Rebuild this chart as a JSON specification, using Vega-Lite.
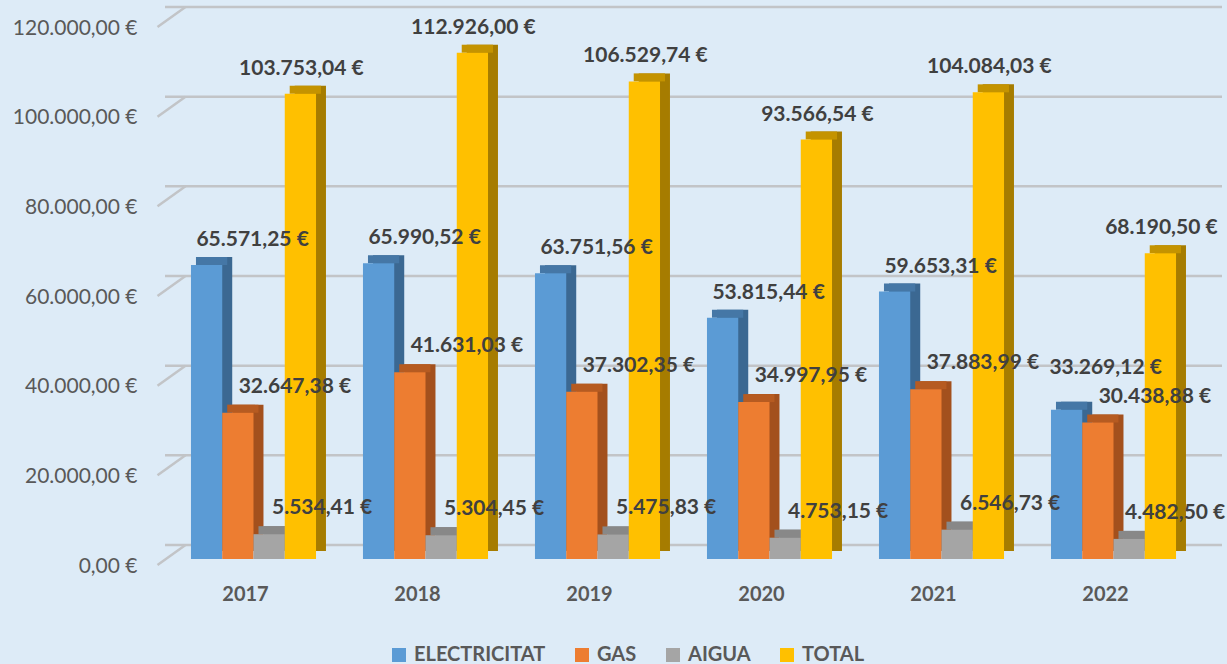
{
  "$schema": "https://vega.github.io/schema/vega-lite/v6.json",
  "width": 1037,
  "height": 538,
  "autosize": {"type": "none"},
  "padding": {"left": 165, "top": 21, "right": 25, "bottom": 105},
  "background": "#DDEBF7",
  "config": {
    "view": {"stroke": null, "fill": "#DDEBF7"},
    "font": "Lato",
    "locale": {"number": {"decimal": ",", "thousands": ".", "grouping": [3], "currency": ["", " €"]}}
  },
  "datasets": {
    "costos": [
      {"any": "2017", "serie": "ELECTRICITAT", "valor": 65571.25},
      {"any": "2017", "serie": "GAS", "valor": 32647.38},
      {"any": "2017", "serie": "AIGUA", "valor": 5534.41},
      {"any": "2017", "serie": "TOTAL", "valor": 103753.04},
      {"any": "2018", "serie": "ELECTRICITAT", "valor": 65990.52},
      {"any": "2018", "serie": "GAS", "valor": 41631.03},
      {"any": "2018", "serie": "AIGUA", "valor": 5304.45},
      {"any": "2018", "serie": "TOTAL", "valor": 112926.00},
      {"any": "2019", "serie": "ELECTRICITAT", "valor": 63751.56},
      {"any": "2019", "serie": "GAS", "valor": 37302.35},
      {"any": "2019", "serie": "AIGUA", "valor": 5475.83},
      {"any": "2019", "serie": "TOTAL", "valor": 106529.74},
      {"any": "2020", "serie": "ELECTRICITAT", "valor": 53815.44},
      {"any": "2020", "serie": "GAS", "valor": 34997.95},
      {"any": "2020", "serie": "AIGUA", "valor": 4753.15},
      {"any": "2020", "serie": "TOTAL", "valor": 93566.54},
      {"any": "2021", "serie": "ELECTRICITAT", "valor": 59653.31},
      {"any": "2021", "serie": "GAS", "valor": 37883.99},
      {"any": "2021", "serie": "AIGUA", "valor": 6546.73},
      {"any": "2021", "serie": "TOTAL", "valor": 104084.03},
      {"any": "2022", "serie": "ELECTRICITAT", "valor": 33269.12},
      {"any": "2022", "serie": "GAS", "valor": 30438.88},
      {"any": "2022", "serie": "AIGUA", "valor": 4482.50},
      {"any": "2022", "serie": "TOTAL", "valor": 68190.50}
    ],
    "graella": [
      {"v": 0}, {"v": 20000}, {"v": 40000}, {"v": 60000}, {"v": 80000}, {"v": 100000}, {"v": 120000}
    ]
  },
  "resolve": {"scale": {"color": "independent", "xOffset": "independent"}},
  "layer": [
    {
      "data": {"name": "graella"},
      "mark": {"type": "rule", "color": "#C2C4C7", "strokeWidth": 2.5, "xOffset": 20, "yOffset": -14},
      "encoding": {
        "y": {
          "field": "v", "type": "quantitative",
          "scale": {"domain": [0, 120000], "nice": false},
          "axis": {
            "values": [0, 20000, 40000, 60000, 80000, 100000, 120000],
            "format": "$,.2f", "title": null, "grid": false, "domain": false, "ticks": false,
            "labelFont": "Lato", "labelFontSize": 21, "labelColor": "#595959",
            "labelPadding": 28, "labelOffset": 7
          }
        }
      }
    },
    {
      "data": {"name": "costos"},
      "mark": {"type": "bar", "yOffset": -8, "y2Offset": -8},
      "encoding": {
        "x": {"field": "any", "type": "nominal", "scale": {"paddingInner": 0.273, "paddingOuter": 0.151},
          "axis": {"title": null, "domain": false, "ticks": false, "labelAngle": 0,
            "labelFont": "Lato", "labelFontSize": 20, "labelFontWeight": "bold", "labelColor": "#595959",
            "labelPadding": 25, "labelOffset": -8}},
        "xOffset": {"field": "serie", "type": "nominal", "sort": ["ELECTRICITAT", "GAS", "AIGUA", "TOTAL"], "scale": {"type": "band", "paddingInner": 0, "paddingOuter": 0, "range": [10, 135]}},
        "y": {"field": "valor", "type": "quantitative"},
        "color": {"field": "serie", "type": "nominal", "legend": null,
          "scale": {"domain": ["ELECTRICITAT", "GAS", "AIGUA", "TOTAL"], "range": ["#3B6892", "#A3501D", "#7A7A7A", "#A67C00"]}}
      }
    },
    {
      "data": {"name": "costos"},
      "mark": {"type": "bar", "yOffset": -8, "y2Offset": 0},
      "encoding": {
        "x": {"field": "any", "type": "nominal"},
        "xOffset": {"field": "serie", "type": "nominal", "sort": ["ELECTRICITAT", "GAS", "AIGUA", "TOTAL"], "scale": {"type": "band", "paddingInner": 0, "paddingOuter": 0, "range": [5, 130]}},
        "y": {"field": "valor", "type": "quantitative"},
        "y2": {"field": "valor"},
        "color": {"field": "serie", "type": "nominal", "legend": null,
          "scale": {"domain": ["ELECTRICITAT", "GAS", "AIGUA", "TOTAL"], "range": ["#4577A6", "#B65B21", "#888888", "#C49300"]}}
      }
    },
    {
      "data": {"name": "costos"},
      "mark": {"type": "bar"},
      "encoding": {
        "x": {"field": "any", "type": "nominal"},
        "xOffset": {"field": "serie", "type": "nominal", "sort": ["ELECTRICITAT", "GAS", "AIGUA", "TOTAL"], "scale": {"type": "band", "paddingInner": 0, "paddingOuter": 0}},
        "y": {"field": "valor", "type": "quantitative"},
        "color": {"field": "serie", "type": "nominal",
          "scale": {"domain": ["ELECTRICITAT", "GAS", "AIGUA", "TOTAL"], "range": ["#5B9BD5", "#ED7D31", "#A5A5A5", "#FFC000"]},
          "legend": {"orient": "none", "legendX": 224, "legendY": 624, "direction": "horizontal", "title": null,
            "symbolType": "square", "symbolSize": 196, "symbolStrokeWidth": 0,
            "labelFont": "Lato", "labelFontSize": 20, "labelFontWeight": "bold", "labelColor": "#595959",
            "columnPadding": 26, "labelOffset": 5, "padding": 0}}
      }
    },
    {
      "data": {"name": "costos"},
      "layer": [
        {"transform": [{"filter": "datum.serie == 'ELECTRICITAT' && datum.any != '2022'"}],
         "mark": {"type": "text", "font": "Lato", "fontSize": 21, "fontWeight": "bold", "color": "#404040", "baseline": "middle", "dy": -25, "dx": 46}},
        {"transform": [{"filter": "datum.serie == 'ELECTRICITAT' && datum.any == '2022'"}],
         "mark": {"type": "text", "font": "Lato", "fontSize": 21, "fontWeight": "bold", "color": "#404040", "baseline": "middle", "dy": -42, "dx": 39}},
        {"transform": [{"filter": "datum.serie == 'GAS'"}],
         "mark": {"type": "text", "font": "Lato", "fontSize": 21, "fontWeight": "bold", "color": "#404040", "baseline": "middle", "dy": -26, "dx": 57}},
        {"transform": [{"filter": "datum.serie == 'AIGUA' && datum.any != '2022'"}],
         "mark": {"type": "text", "font": "Lato", "fontSize": 21, "fontWeight": "bold", "color": "#404040", "baseline": "middle", "dy": -26, "dx": 53}},
        {"transform": [{"filter": "datum.serie == 'AIGUA' && datum.any == '2022'"}],
         "mark": {"type": "text", "font": "Lato", "fontSize": 21, "fontWeight": "bold", "color": "#404040", "baseline": "middle", "dy": -26, "dx": 46}},
        {"transform": [{"filter": "datum.serie == 'TOTAL'"}],
         "mark": {"type": "text", "font": "Lato", "fontSize": 21, "fontWeight": "bold", "color": "#404040", "baseline": "middle", "dy": -25, "dx": 1}}
      ],
      "encoding": {
        "x": {"field": "any", "type": "nominal"},
        "xOffset": {"field": "serie", "type": "nominal", "sort": ["ELECTRICITAT", "GAS", "AIGUA", "TOTAL"], "scale": {"type": "band", "paddingInner": 0, "paddingOuter": 0}},
        "y": {"field": "valor", "type": "quantitative"},
        "text": {"field": "valor", "type": "quantitative", "format": "$,.2f"}
      }
    },
    {
      "data": {"name": "graella"},
      "mark": {"type": "rule", "color": "#C2C4C7", "strokeWidth": 2.5, "xOffset": -96, "x2Offset": -68, "yOffset": 6, "y2Offset": -14},
      "encoding": {
        "x": {"datum": "2017", "type": "nominal"},
        "x2": {"datum": "2017"},
        "y": {"field": "v", "type": "quantitative"},
        "y2": {"field": "v"}
      }
    }
  ]
}
